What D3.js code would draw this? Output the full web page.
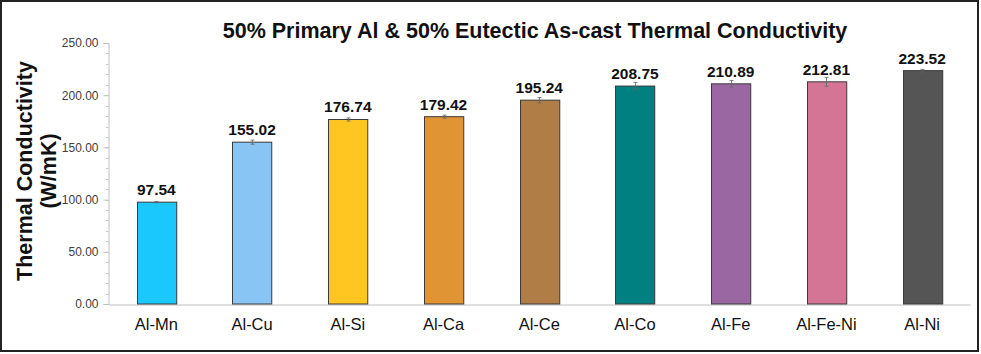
<!DOCTYPE html>
<html><head><meta charset="utf-8">
<script src="https://cdn.jsdelivr.net/npm/d3@7"></script>
<style>body{margin:0;background:#fff}svg{display:block}</style>
</head><body>
<script>
const categories = ["Al-Mn","Al-Cu","Al-Si","Al-Ca","Al-Ce","Al-Co","Al-Fe","Al-Fe-Ni","Al-Ni"];
const values = [97.54,155.02,176.74,179.42,195.24,208.75,210.89,212.81,223.52];
const errors = [0.6,2.0,1.5,1.5,2.5,3.5,3.2,4.2,1.2];
const colors = ["#1ac8fd","#88c5f4","#ffc520","#e09433","#b07d47","#008080","#9a67a3","#d47596","#555555"];
const yTicks = [0,50,100,150,200,250];

const W = 981, H = 354;
const svg = d3.select("body").append("svg").attr("width", W).attr("height", H);
svg.append("rect").attr("x",1).attr("y",1).attr("width",977).attr("height",350)
  .attr("fill","#fff").attr("stroke","#222").attr("stroke-width",2);

const x = d3.scaleBand().domain(categories).range([108.5, 970]).paddingInner(0.59).paddingOuter(0.295);
const y = d3.scaleLinear().domain([0,250]).range([304, 43]);

const g = svg.append("g");
g.selectAll("line.minor").data(d3.range(0,251,10)).join("line")
  .attr("x1",106).attr("x2",108.5).attr("y1",d=>Math.round(y(d))+0.5).attr("y2",d=>Math.round(y(d))+0.5)
  .attr("stroke","#c8c8c8");
const yAxis = d3.axisLeft(y).tickValues(yTicks).tickFormat(d3.format(".2f")).tickSize(5).tickPadding(5);
const ya = svg.append("g").attr("transform","translate(108.5,0)").call(yAxis);
ya.select(".domain").attr("stroke","#c0c0c0");
ya.selectAll(".tick line").attr("stroke","#c0c0c0");
ya.selectAll(".tick text").attr("font-family","Liberation Sans, Arial, sans-serif").attr("font-size",12).attr("fill","#404040");

const xAxis = d3.axisBottom(x).tickSize(0).tickPadding(14);
const xa = svg.append("g").attr("transform","translate(0,304.5)").call(xAxis);
xa.select(".domain").attr("stroke","#c0c0c0");
xa.selectAll(".tick text").attr("font-family","Liberation Sans, Arial, sans-serif").attr("font-size",16.5).attr("fill","#111");

const data = categories.map((c,i)=>({c, v:values[i], e:errors[i], col:colors[i]}));
svg.append("g").selectAll("rect").data(data).join("rect")
  .attr("x",d=>Math.round(x(d.c))+0.5).attr("y",d=>y(d.v))
  .attr("width",x.bandwidth()).attr("height",d=>y(0)-y(d.v))
  .attr("fill",d=>d.col).attr("stroke","#3a3a3a").attr("stroke-width",1);

const eb = svg.append("g").attr("stroke","#666").attr("stroke-width",0.8);
data.forEach(d=>{
  const cx = Math.round(x(d.c)+x.bandwidth()/2)+0.5;
  eb.append("line").attr("x1",cx).attr("x2",cx).attr("y1",y(d.v+d.e)).attr("y2",y(d.v-d.e));
  eb.append("line").attr("x1",cx-2).attr("x2",cx+2).attr("y1",y(d.v+d.e)).attr("y2",y(d.v+d.e));
  eb.append("line").attr("x1",cx-2).attr("x2",cx+2).attr("y1",y(d.v-d.e)).attr("y2",y(d.v-d.e));
});

svg.append("g").selectAll("text").data(data).join("text")
  .attr("x",d=>x(d.c)+x.bandwidth()/2).attr("y",d=>y(d.v)-7)
  .attr("text-anchor","middle").attr("font-family","Liberation Sans, Arial, sans-serif")
  .attr("font-weight","bold").attr("font-size",15.5).attr("fill","#111")
  .text(d=>d3.format(".2f")(d.v));

svg.append("text").attr("x",535).attr("y",38).attr("text-anchor","middle")
  .attr("font-family","Liberation Sans, Arial, sans-serif").attr("font-weight","bold")
  .attr("font-size",21.5).attr("fill","#111")
  .text("50% Primary Al & 50% Eutectic As-cast Thermal Conductivity");

const yl = svg.append("text").attr("transform","translate(0,171) rotate(-90)")
  .attr("text-anchor","middle").attr("font-family","Liberation Sans, Arial, sans-serif")
  .attr("font-weight","bold").attr("font-size",21.5).attr("fill","#111");
yl.append("tspan").attr("x",0).attr("y",32).text("Thermal Conductivity");
yl.append("tspan").attr("x",0).attr("y",56).text("(W/mK)");
</script>
</body></html>
